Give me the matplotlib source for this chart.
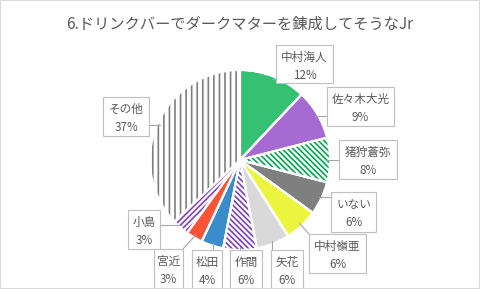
import matplotlib
matplotlib.use('Agg')
import numpy as np
import matplotlib.pyplot as plt
from matplotlib.patches import Rectangle

plt.rcParams['font.family'] = ['Noto Sans CJK JP', 'DejaVu Sans']
plt.rcParams['hatch.linewidth'] = 1.2

# データ
names = ['中村海人', '佐々木大光', '猪狩蒼弥', 'いない', '中村嶺亜', '矢花',
         '作間', '松田', '宮近', '小島', 'その他']
values = [12, 9, 8, 6, 6, 6, 6, 4, 3, 3, 37]
title = '6.ドリンクバーでダークマターを錬成してそうなJr'

# スタイル (色, ハッチ)
colors = ['#35C074', '#A66BD3', '#00A651', '#7F7F7F', '#ECF53E', '#D9D9D9',
          '#7B3FC4', '#3A8DCD', '#FF5335', '#8040C8', '#7F7F7F']
hatches = [None, None, '\\' * 6, None, None, None,
           '\\' * 6, None, None, '/' * 6, '|||']

# ラベルの箱 (x0, y0, x1, y1) ピクセル, 上から
boxes = [(276, 45, 333, 83), (327, 87, 394, 126), (339, 140, 397, 179),
         (331, 192, 376, 232), (309, 234, 366, 273), (271, 250, 303, 290),
         (230, 250, 262, 290), (192, 250, 222, 290), (154, 249, 183, 289),
         (128, 210, 160, 249), (103, 97, 149, 136)]

W, H = 480, 289
CX, CY, R = 240, 160, 90
TXT = '#595959'


def main():
    fig = plt.figure(figsize=(W / 100, H / 100), dpi=100)
    ax = fig.add_axes([0, 0, 1, 1])

    wedges, _ = ax.pie(values, colors=colors, startangle=90, counterclock=False,
                       center=(CX, H - CY), radius=R,
                       wedgeprops=dict(edgecolor='white', linewidth=1.5))
    for w, c, h in zip(wedges, colors, hatches):
        if h:
            w.set_facecolor('white')
            w.set_hatch(h)
            w.set_edgecolor(c)
            w.set_linewidth(0)
    # 白い境界線を上に重ねる
    ax.pie(values, startangle=90, counterclock=False,
           center=(CX, H - CY), radius=R,
           wedgeprops=dict(facecolor='none', edgecolor='white', linewidth=1.5))

    ax.set_xlim(0, W)
    ax.set_ylim(0, H)
    ax.axis('off')

    # ラベルと引き出し線
    for w, name, v, (x0, y0, x1, y1) in zip(wedges, names, values, boxes):
        a = np.deg2rad((w.theta1 + w.theta2) / 2)
        px, py = CX + R * 0.97 * np.cos(a), (H - CY) + R * 0.97 * np.sin(a)
        bx = min(max(px, x0), x1)
        by = min(max(py, H - y1), H - y0)
        ax.plot([bx, px], [by, py], color='#A6A6A6', lw=0.8, zorder=3)
        ax.add_patch(Rectangle((x0, H - y1), x1 - x0, y1 - y0, facecolor='white',
                               edgecolor='#BFBFBF', lw=0.8, zorder=4))
        xc = (x0 + x1) / 2
        ax.text(xc, H - (y0 + 12.5), name, ha='center', va='center',
                fontsize=8.4, color=TXT, zorder=5)
        ax.text(xc, H - (y0 + 30.5), f'{v}%', ha='center', va='center',
                fontsize=8.4, color=TXT, zorder=5)

    fig.text(0.5, 1 - 24 / H, title, ha='center', va='center',
             fontsize=11, color=TXT)
    fig.patches.append(Rectangle((0, 0), 1, 1, transform=fig.transFigure,
                                 fill=False, edgecolor='#D9D9D9', lw=1.5))

    fig.savefig('out.png', dpi=100)


if __name__ == '__main__':
    main()
